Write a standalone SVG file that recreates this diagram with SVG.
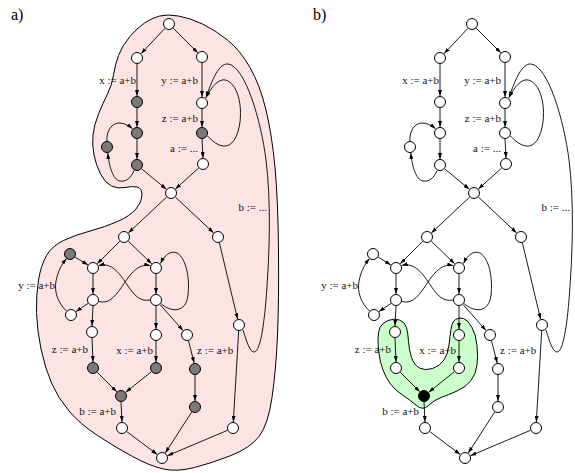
<svg xmlns="http://www.w3.org/2000/svg" width="575" height="473" viewBox="0 0 575 473">
<style>
.n circle{fill:#fff;stroke:#000;stroke-width:1}
.g circle{fill:#7a7a7a}
.k circle{fill:#000}
.e path{stroke:#000;stroke-width:0.9;fill:none;marker-end:url(#ah)}
.lbl{font-family:"Liberation Serif","Times New Roman",serif;font-size:11px;fill:#111}
.ttl{font-family:"Liberation Serif","Times New Roman",serif;font-size:16px;fill:#000}
.region{stroke:#000;stroke-width:1}
</style>
<defs>
<marker id="ah" markerUnits="userSpaceOnUse" viewBox="0 0 6 4" refX="6" refY="2" markerWidth="6" markerHeight="4" orient="auto">
<path d="M0,0 L6,2 L0,4 z" fill="#000"/>
</marker>
</defs>
<rect width="575" height="473" fill="#fff"/>
<text class="ttl" x="11" y="20">a)</text>
<text class="ttl" x="313" y="20">b)</text>

<path id="region-a" class="region" fill="#fde4e4" d="M178.5,16 Q190,18 202.5,24 Q215,30 227.5,40 Q240,50 250,67.5 Q260,85 266,110 Q272,135 275,167.5 Q278,200 278.5,250 Q279,300 277.5,335 Q276,370 272,397.5 Q268,425 259,436.5 Q250,448 231,455.5 Q212,463 194.5,467.5 Q177,472 163.5,469 Q150,466 132.5,456.5 Q115,447 97.5,435.5 Q80,424 69,411 Q58,398 51.5,383 Q45,368 41,349 Q37,330 36.5,312.5 Q36,295 38.5,280 Q41,265 46.5,255.5 Q52,246 63.5,240.5 Q75,235 90,231 Q105,227 117.5,221.5 Q130,216 136,209 Q142,202 142,195 Q142,188 137,187 Q132,186 125,187.5 Q118,189 111.5,186 Q105,183 100.5,174 Q96,165 94,155 Q92,145 93,135 Q94,125 98.5,114 Q103,103 107.5,94 Q112,85 113.5,75 Q115,65 118.5,55.5 Q122,46 129.5,37 Q137,28 144.5,23 Q152,18 159.5,16 Q167,14 178.5,16 Z"/>

<path id="region-b" class="region" fill="#ccffcc" d="M388,320.5 Q394,318 399.5,320 Q405,322 406.5,327.5 Q408,333 408.5,341.5 Q409,350 411.5,357.5 Q414,365 419.5,368 Q425,371 432.5,368.5 Q440,366 444,360 Q448,354 449,345 Q450,336 451,329 Q452,322 455.5,319.5 Q459,317 463.5,318.5 Q468,320 472,327.5 Q476,335 477,345.5 Q478,356 477,365 Q476,374 471,380.5 Q466,387 457,391 Q448,395 441,397.5 Q434,400 428.5,405.5 Q423,411 416.5,405.5 Q410,400 402.5,395 Q395,390 390.5,384 Q386,378 383,370 Q380,362 379,353.5 Q378,345 378,338.5 Q378,332 380,327.5 Q382,323 388,320.5 Z"/>

<!-- Panel a -->
<g id="panel-a">
<g id="a-edges" class="e">
<path d="M164.9,28.4 L141.1,53.6"/>
<path d="M173.2,28.2 L197.8,52.8"/>
<path d="M137,64 L137,96"/>
<path d="M202,63 L202,97"/>
<path d="M137,108 L137,127"/>
<path d="M202,109 L202,127"/>
<path d="M137,139 L137,159"/>
<path d="M202,139 L203,158"/>
<path d="M141.6,168.8 L166.4,189.2"/>
<path d="M198.6,168 L175.4,189"/>
<path d="M166.6,197.1 L128.4,232.9"/>
<path d="M175.4,197.1 L213.6,232.9"/>
<path d="M119.8,241.2 L97.2,263.8"/>
<path d="M128.3,241.2 L151.7,263.8"/>
<path d="M75.1,257.1 L87.9,264.9"/>
<path d="M93,274 L93,294"/>
<path d="M156,274 L156,294"/>
<path d="M88,303.4 L76,311.6"/>
<path d="M93,306 L92,326"/>
<path d="M156,306 L156,329"/>
<path d="M160,304.5 L183,330.5"/>
<path d="M92,338 L93,362"/>
<path d="M156,341 L156,362"/>
<path d="M188.5,340.8 L194.2,363"/>
<path d="M97.2,372.2 L116.8,391.8"/>
<path d="M151.3,371.8 L125.7,392.3"/>
<path d="M121,402 L122,422"/>
<path d="M195,375 L195,401"/>
<path d="M191.7,412 L165.3,453"/>
<path d="M126.8,431.6 L157.2,454.4"/>
<path d="M227.5,430.3 L167.5,455.7"/>
<path d="M219.4,242.8 L237.6,319.2"/>
<path d="M238.7,331 L233.3,422"/>
<path d="M207.5,136 C222,152 236,150 240,122 C243,95 232,78 222,80 C215,82 210,90 206,97.5"/>
<path d="M243,330 C247,343 250,352 254,352 C259,352 263,335 266,300 C270,250 271,200 266,160 C261,120 245,66 228,64 C219,63 212,80 206,97.5"/>
<path d="M107,141 C106,131 112,123 119,123 C124,123 128,125 132.5,128.8"/>
<path d="M134,170.5 C131,178 126,182 120,181 C113,180 109,166 107.8,153"/>
<path d="M66.5,311 C58,303 54,292 56,281 C58,271 62,264 66.5,258.5"/>
<path d="M99,301.5 C108,304 114,298 121,288 C129,276 137,263 150.2,265.5"/>
<path d="M150,300 C140,302 134,295 128,286 C120,274 112,262 98.8,265.5"/>
<path d="M161,303.5 C170,312 186,314 188,295 C190,278 186,258 177,253 C170,250 164,256 160.5,263.5"/>
</g>
<g id="a-labels" class="lbl">
<text x="136" y="84" text-anchor="end">x := a+b</text>
<text x="198" y="84" text-anchor="end">y := a+b</text>
<text x="198" y="122" text-anchor="end">z := a+b</text>
<text x="198" y="152" text-anchor="end">a := ...</text>
<text x="267" y="211" text-anchor="end">b := ...</text>
<text x="55" y="289" text-anchor="end">y := a+b</text>
<text x="88" y="353" text-anchor="end">z := a+b</text>
<text x="153" y="354" text-anchor="end">x := a+b</text>
<text x="197" y="354">z := a+b</text>
<text x="116" y="415" text-anchor="end">b := a+b</text>
</g>
<g id="a-n1" class="n"><circle cx="169" cy="24" r="5.5"/></g>
<g id="a-n2" class="n"><circle cx="137" cy="58" r="5.5"/></g>
<g id="a-n3" class="n"><circle cx="202" cy="57" r="5.5"/></g>
<g id="a-n4" class="n g"><circle cx="137" cy="102" r="5.5"/></g>
<g id="a-n5" class="n"><circle cx="202" cy="103" r="5.5"/></g>
<g id="a-n6" class="n g"><circle cx="137" cy="133" r="5.5"/></g>
<g id="a-n7" class="n g"><circle cx="202" cy="133" r="5.5"/></g>
<g id="a-n8" class="n g"><circle cx="107" cy="147" r="5.5"/></g>
<g id="a-n9" class="n g"><circle cx="137" cy="165" r="5.5"/></g>
<g id="a-n10" class="n"><circle cx="203" cy="164" r="5.5"/></g>
<g id="a-n11" class="n"><circle cx="171" cy="193" r="5.5"/></g>
<g id="a-n12" class="n"><circle cx="124" cy="237" r="5.5"/></g>
<g id="a-n13" class="n"><circle cx="218" cy="237" r="5.5"/></g>
<g id="a-n14" class="n g"><circle cx="70" cy="254" r="5.5"/></g>
<g id="a-n15" class="n"><circle cx="93" cy="268" r="5.5"/></g>
<g id="a-n16" class="n"><circle cx="156" cy="268" r="5.5"/></g>
<g id="a-n17" class="n"><circle cx="93" cy="300" r="5.5"/></g>
<g id="a-n18" class="n"><circle cx="156" cy="300" r="5.5"/></g>
<g id="a-n19" class="n"><circle cx="71" cy="315" r="5.5"/></g>
<g id="a-n20" class="n"><circle cx="92" cy="332" r="5.5"/></g>
<g id="a-n21" class="n"><circle cx="156" cy="335" r="5.5"/></g>
<g id="a-n22" class="n"><circle cx="187" cy="335" r="5.5"/></g>
<g id="a-n23" class="n"><circle cx="239" cy="325" r="5.5"/></g>
<g id="a-n24" class="n g"><circle cx="93" cy="368" r="5.5"/></g>
<g id="a-n25" class="n g"><circle cx="156" cy="368" r="5.5"/></g>
<g id="a-n26" class="n g"><circle cx="195" cy="369" r="5.5"/></g>
<g id="a-n27" class="n g"><circle cx="121" cy="396" r="5.5"/></g>
<g id="a-n28" class="n g"><circle cx="195" cy="407" r="5.5"/></g>
<g id="a-n29" class="n"><circle cx="122" cy="428" r="5.5"/></g>
<g id="a-n30" class="n"><circle cx="233" cy="428" r="5.5"/></g>
<g id="a-n31" class="n"><circle cx="162" cy="458" r="5.5"/></g>
</g>

<!-- Panel b -->
<g id="panel-b" transform="translate(303,0)">
<g id="b-edges" class="e">
<path d="M164.9,28.4 L141.1,53.6"/>
<path d="M173.2,28.2 L197.8,52.8"/>
<path d="M137,64 L137,96"/>
<path d="M202,63 L202,97"/>
<path d="M137,108 L137,127"/>
<path d="M202,109 L202,127"/>
<path d="M137,139 L137,159"/>
<path d="M202,139 L203,158"/>
<path d="M141.6,168.8 L166.4,189.2"/>
<path d="M198.6,168 L175.4,189"/>
<path d="M166.6,197.1 L128.4,232.9"/>
<path d="M175.4,197.1 L213.6,232.9"/>
<path d="M119.8,241.2 L97.2,263.8"/>
<path d="M128.3,241.2 L151.7,263.8"/>
<path d="M75.1,257.1 L87.9,264.9"/>
<path d="M93,274 L93,294"/>
<path d="M156,274 L156,294"/>
<path d="M88,303.4 L76,311.6"/>
<path d="M93,306 L92,326"/>
<path d="M156,306 L156,329"/>
<path d="M160,304.5 L183,330.5"/>
<path d="M92,338 L93,362"/>
<path d="M156,341 L156,362"/>
<path d="M188.5,340.8 L194.2,363"/>
<path d="M97.2,372.2 L116.8,391.8"/>
<path d="M151.3,371.8 L125.7,392.3"/>
<path d="M121,402 L122,422"/>
<path d="M195,375 L195,401"/>
<path d="M191.7,412 L165.3,453"/>
<path d="M126.8,431.6 L157.2,454.4"/>
<path d="M227.5,430.3 L167.5,455.7"/>
<path d="M219.4,242.8 L237.6,319.2"/>
<path d="M238.7,331 L233.3,422"/>
<path d="M207.5,136 C222,152 236,150 240,122 C243,95 232,78 222,80 C215,82 210,90 206,97.5"/>
<path d="M243,330 C247,343 250,352 254,352 C259,352 263,335 266,300 C270,250 271,200 266,160 C261,120 245,66 228,64 C219,63 212,80 206,97.5"/>
<path d="M107,141 C106,131 112,123 119,123 C124,123 128,125 132.5,128.8"/>
<path d="M134,170.5 C131,178 126,182 120,181 C113,180 109,166 107.8,153"/>
<path d="M66.5,311 C58,303 54,292 56,281 C58,271 62,264 66.5,258.5"/>
<path d="M99,301.5 C108,304 114,298 121,288 C129,276 137,263 150.2,265.5"/>
<path d="M150,300 C140,302 134,295 128,286 C120,274 112,262 98.8,265.5"/>
<path d="M161,303.5 C170,312 186,314 188,295 C190,278 186,258 177,253 C170,250 164,256 160.5,263.5"/>
</g>
<g id="b-labels" class="lbl">
<text x="136" y="84" text-anchor="end">x := a+b</text>
<text x="198" y="84" text-anchor="end">y := a+b</text>
<text x="198" y="122" text-anchor="end">z := a+b</text>
<text x="198" y="152" text-anchor="end">a := ...</text>
<text x="267" y="211" text-anchor="end">b := ...</text>
<text x="55" y="289" text-anchor="end">y := a+b</text>
<text x="88" y="353" text-anchor="end">z := a+b</text>
<text x="153" y="354" text-anchor="end">x := a+b</text>
<text x="197" y="354">z := a+b</text>
<text x="116" y="415" text-anchor="end">b := a+b</text>
</g>
<g id="b-n1" class="n"><circle cx="169" cy="24" r="5.5"/></g>
<g id="b-n2" class="n"><circle cx="137" cy="58" r="5.5"/></g>
<g id="b-n3" class="n"><circle cx="202" cy="57" r="5.5"/></g>
<g id="b-n4" class="n"><circle cx="137" cy="102" r="5.5"/></g>
<g id="b-n5" class="n"><circle cx="202" cy="103" r="5.5"/></g>
<g id="b-n6" class="n"><circle cx="137" cy="133" r="5.5"/></g>
<g id="b-n7" class="n"><circle cx="202" cy="133" r="5.5"/></g>
<g id="b-n8" class="n"><circle cx="107" cy="147" r="5.5"/></g>
<g id="b-n9" class="n"><circle cx="137" cy="165" r="5.5"/></g>
<g id="b-n10" class="n"><circle cx="203" cy="164" r="5.5"/></g>
<g id="b-n11" class="n"><circle cx="171" cy="193" r="5.5"/></g>
<g id="b-n12" class="n"><circle cx="124" cy="237" r="5.5"/></g>
<g id="b-n13" class="n"><circle cx="218" cy="237" r="5.5"/></g>
<g id="b-n14" class="n"><circle cx="70" cy="254" r="5.5"/></g>
<g id="b-n15" class="n"><circle cx="93" cy="268" r="5.5"/></g>
<g id="b-n16" class="n"><circle cx="156" cy="268" r="5.5"/></g>
<g id="b-n17" class="n"><circle cx="93" cy="300" r="5.5"/></g>
<g id="b-n18" class="n"><circle cx="156" cy="300" r="5.5"/></g>
<g id="b-n19" class="n"><circle cx="71" cy="315" r="5.5"/></g>
<g id="b-n20" class="n"><circle cx="92" cy="332" r="5.5"/></g>
<g id="b-n21" class="n"><circle cx="156" cy="335" r="5.5"/></g>
<g id="b-n22" class="n"><circle cx="187" cy="335" r="5.5"/></g>
<g id="b-n23" class="n"><circle cx="239" cy="325" r="5.5"/></g>
<g id="b-n24" class="n"><circle cx="93" cy="368" r="5.5"/></g>
<g id="b-n25" class="n"><circle cx="156" cy="368" r="5.5"/></g>
<g id="b-n26" class="n"><circle cx="195" cy="369" r="5.5"/></g>
<g id="b-n27" class="n k"><circle cx="121" cy="396" r="5.5"/></g>
<g id="b-n28" class="n"><circle cx="195" cy="407" r="5.5"/></g>
<g id="b-n29" class="n"><circle cx="122" cy="428" r="5.5"/></g>
<g id="b-n30" class="n"><circle cx="233" cy="428" r="5.5"/></g>
<g id="b-n31" class="n"><circle cx="162" cy="458" r="5.5"/></g>
</g>
</svg>
